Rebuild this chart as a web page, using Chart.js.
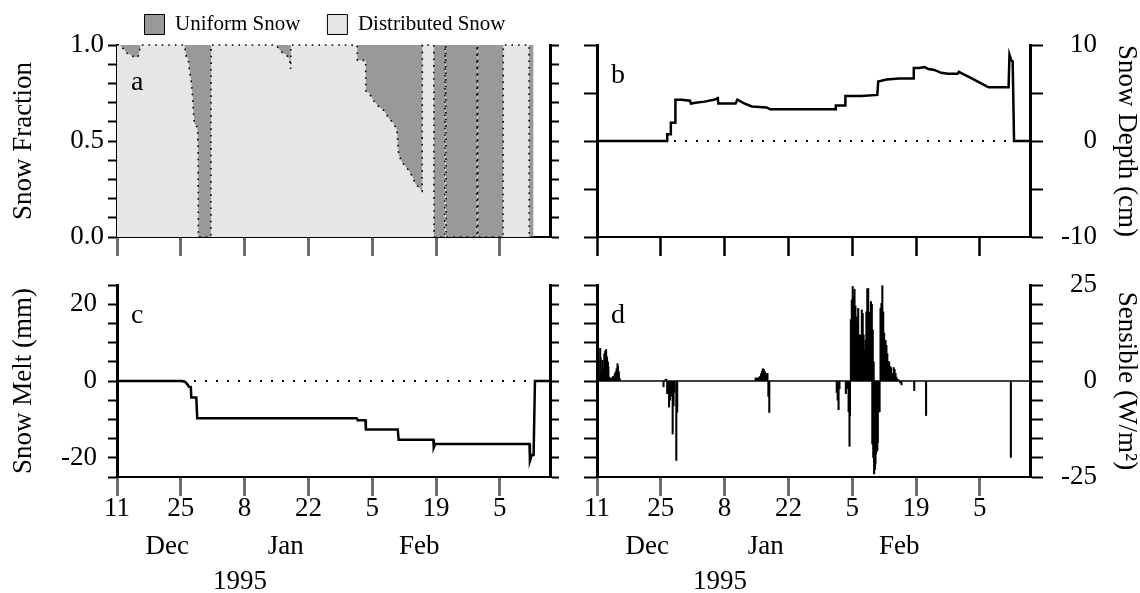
<!DOCTYPE html>
<html>
<head>
<meta charset="utf-8">
<title>Snow model panels</title>
<script src="https://cdn.jsdelivr.net/npm/chart.js@4.4.1/dist/chart.umd.min.js"></script>
<style>
  body { margin: 0; background: #fff; }
  #page { position: relative; width: 1140px; height: 593px; overflow: hidden; }
  .panel { position: absolute; }
</style>
</head>
<body>
<div id="page">
  <div class="panel" style="left:0;top:-13px;width:650px;height:278px"><canvas id="chartA"></canvas></div>
  <div class="panel" style="left:560px;top:0;width:580px;height:265px"><canvas id="chartB"></canvas></div>
  <div class="panel" style="left:0;top:240px;width:650px;height:353px"><canvas id="chartC"></canvas></div>
  <div class="panel" style="left:560px;top:240px;width:580px;height:353px"><canvas id="chartD"></canvas></div>
</div>
<script>
console.log('Snow panels loaded');

Chart.defaults.font.family = "'Liberation Serif', 'Times New Roman', serif";
Chart.defaults.color = '#000';
Chart.defaults.animation = false;

// x axis counts days from 11 Dec
const dayMax = 95;
const tickDays = [0, 14, 28, 42, 56, 70, 84];
const tickLabels = ['11', '25', '8', '22', '5', '19', '5'];
const monthDays = [11, 37, 66.3];
const monthLabels = ['Dec', 'Jan', 'Feb'];
const yearDays = [27];
const yearLabels = ['1995'];

// a: fraction of distributed snow (rest up to 1 is uniform snow)
const fracDays = [0, 0.6, 1.4, 2.0, 2.8, 3.6, 4.6, 5.2,
  14.8, 15.2, 15.6, 16.0, 16.2, 16.4, 16.6, 16.8, 17.0, 17.4, 17.6, 17.7, 17.8, 17.85, 20.6, 20.65,
  34.9, 35.5, 36.3, 37.0, 37.5, 37.9, 38.1, 38.15,
  52.7, 52.75, 54.55, 54.6, 55.3, 56.3, 57.4, 58.5, 59.6, 60.7, 61.4, 61.8, 62.5, 63.6, 64.7, 65.4, 66.5, 66.95, 67.0,
  69.5, 69.55, 71.9, 72.0, 72.1, 72.2, 78.95, 79.0, 79.1, 79.15, 84.7, 84.75, 90.4, 90.45, 91.4];
const fracDist = [1, 1, 0.98, 0.96, 0.95, 0.94, 0.935, 1,
  1, 0.94, 0.93, 0.85, 0.83, 0.78, 0.73, 0.64, 0.59, 0.58, 0.57, 0.54, 0.45, 0, 0, 1,
  1, 0.98, 0.96, 0.95, 0.94, 0.92, 0.875, 1,
  1, 0.92, 0.92, 0.76, 0.75, 0.71, 0.68, 0.66, 0.62, 0.59, 0.56, 0.43, 0.39, 0.36, 0.32, 0.28, 0.25, 0.24, 1,
  1, 0, 0, 1, 1, 0, 0, 1, 1, 0, 0, 1, 1, 0, 0];

// b: snow depth (cm)
const depthDays = [0, 15.4, 15.4, 16.2, 16.2, 17.2, 17.2, 18.5, 20.4, 20.6,
  22.0, 23.6, 25.6, 26.4, 26.5, 26.6, 28.5, 30.4, 30.8, 32.4,
  34.0, 37.2, 38.0, 40.8, 45.0, 50.0, 52.4, 52.4, 54.5, 54.5,
  56.5, 58.0, 61.5, 61.7, 63.5, 66.3, 69.4, 69.5, 70.7, 71.9,
  72.7, 74.0, 75.5, 77.1, 79.1, 79.4, 81.9, 85.1, 85.9, 90.3,
  90.5, 90.9, 91.2, 91.5, 95];
const depthCm = [0, 0, 0.7, 0.7, 1.9, 1.9, 4.3, 4.3, 4.2, 3.9,
  4.0, 4.1, 4.3, 4.4, 4.6, 3.9, 3.9, 3.9, 4.3, 3.9,
  3.6, 3.5, 3.3, 3.3, 3.3, 3.3, 3.3, 3.7, 3.7, 4.7,
  4.7, 4.7, 4.8, 6.2, 6.4, 6.5, 6.5, 7.6, 7.6, 7.7,
  7.5, 7.4, 7.1, 7.0, 7.0, 7.2, 6.6, 5.8, 5.6, 5.6,
  9.0, 8.4, 8.3, 0, 0];

// c: snow melt (mm)
const meltDays = [0, 14.2, 15.0, 15.4, 15.8, 16.2, 16.3, 17.4, 17.6, 52.6,
  52.8, 54.5, 54.6, 61.6, 61.8, 69.4, 69.5, 69.8, 75.4, 90.5,
  90.6, 91.0, 91.4, 91.7, 95];
const meltMm = [0, 0, -0.3, -0.8, -1.5, -1.6, -4.3, -4.3, -9.7, -9.7,
  -10.2, -10.2, -12.6, -12.6, -15.3, -15.3, -17.3, -16.4, -16.4, -16.4,
  -20.8, -19.3, -19.3, 0, 0];

// d: sensible heat flux (W/m2)
const sensDays = [0.1, 0.3, 0.5, 0.7, 0.8, 1.0, 1.2, 1.4, 1.6, 1.8, 2.0, 2.2, 2.4, 2.5, 2.7, 2.9, 3.1, 3.3, 3.5, 3.7, 3.9, 4.1, 4.3, 4.5, 4.6, 4.8, 5.0,
  14.6, 15.0, 15.2, 15.4, 15.6, 15.8, 16.0, 16.2, 16.4, 16.6, 16.8, 17.0, 17.4, 17.6,
  34.8, 35.0, 35.2, 35.4, 35.6, 35.8, 36.0, 36.2, 36.4, 36.6, 36.8, 37.0, 37.2, 37.4, 37.6, 37.8,
  52.6, 52.8, 53.0, 53.2, 54.6, 54.8, 55.0, 55.2, 55.4, 55.5,
  55.7, 55.9, 56.1, 56.3, 56.5, 56.7, 56.9, 57.1, 57.3, 57.5, 57.7, 57.9, 58.1, 58.3, 58.5, 58.7, 58.9, 59.1, 59.3, 59.5,
  59.7, 59.9, 60.1, 60.3, 60.4, 60.5, 60.6, 60.7, 60.8, 60.9, 61.0, 61.1, 61.2, 61.3, 61.5, 61.6, 61.8, 62.0,
  62.2, 62.4, 62.6, 62.8, 63.0, 63.1, 63.3, 63.5, 63.7, 63.9, 64.1, 64.3, 64.5, 64.7, 64.9, 65.1, 65.3, 65.5, 65.7, 65.9, 66.2, 66.5, 66.8,
  69.6, 72.2, 90.8];
const sensFlux = [5.4, 3.0, 1.5, 8.5, 6.0, 2.5, 5.4, 3.5, 7.1, 7.8, 8.2, 6.3, 5.0, 3.7, 1.0, 0.5, 0.8, 0.7, 1.2, 1.0, 1.9, 2.4, 3.2, 4.5, 3.8, 2.4, 0.6,
  -1.5, 0.3, 0.5, -3.3, -2.0, -6.8, -5.0, -4.0, -3.0, -13.8, -6.5, -3.0, -20.7, -8.1,
  0.8, 0.6, 0.8, 0.7, 1.0, 1.2, 1.9, 2.6, 3.2, 3.0, 2.5, 2.0, 1.8, 2.0, -4.0, -8.2,
  -3.0, -5.0, -7.5, -2.0, -3.3, -1.5, -2.0, -8.0, -17.0, -9.0,
  16.0, 21.1, 24.6, 22.0, 23.9, 19.5, 16.7, 15.0, 18.9, 12.0, 8.9, 12.0, 18.5, 17.6, 12.0, 8.0, 10.6, 18.0, 24.0, 24.1,
  14.1, 18.0, 20.7, 20.0, -16.4, 13.3, -19.9, 5.0, -24.2, -20.7, -23.0, -21.5, -19.0, -18.5, -18.1, -16.0, -8.1, -8.0,
  18.9, 20.2, 24.8, 18.0, 12.5, 10.2, 10.6, 9.3, 7.1, 5.0, 5.0, 3.8, 3.5, 2.0, 2.0, 3.5, 3.0, 2.0, 1.0, 0.5, 0.3, -0.5, -1.0,
  -2.5, -9.0, -19.9];

const zeroLine = [{x: 0, y: 0}, {x: dayMax, y: 0}];

function points(xs, ys) {
  return xs.map((x, i) => ({x: x, y: ys[i]}));
}
function setWidth(w) { return scale => { scale.width = w; }; }
function setHeight(h) { return scale => { scale.height = h; }; }
function setTicks(values) { return scale => { scale.ticks = values.map(v => ({value: v})); }; }

// small letter in the upper left corner of each plot
const panelLetter = {
  id: 'panelLetter',
  afterDraw(chart, args, opts) {
    const area = chart.chartArea;
    const ctx = chart.ctx;
    ctx.save();
    ctx.font = "28px 'Liberation Serif'";
    ctx.fillStyle = '#000';
    ctx.fillText(opts.text, area.left + 14, area.top + 38);
    ctx.restore();
  }
};

function textAxis(days, texts, height, pad, weight) {
  return {
    type: 'linear', position: 'bottom', min: 0, max: dayMax, offset: false, weight: weight,
    afterBuildTicks: setTicks(days),
    afterFit: setHeight(height),
    grid: {display: false, drawTicks: false},
    border: {display: false},
    ticks: {autoSkip: false, maxRotation: 0, padding: pad, font: {size: 27, lineHeight: 1},
            callback: (v, i) => texts[i]}
  };
}

function xAxes(withLabels, tickColor, tickWidth, height) {
  const axes = {
    x: {
      type: 'linear', position: 'bottom', min: 0, max: dayMax, offset: false, weight: 1,
      afterBuildTicks: setTicks(tickDays),
      afterFit: setHeight(height),
      grid: {drawOnChartArea: false, tickLength: 19, tickColor: tickColor, tickWidth: tickWidth, offset: false},
      border: {color: '#000', width: 2},
      ticks: {display: withLabels, autoSkip: false, maxRotation: 0, padding: -1, font: {size: 27, lineHeight: 1},
              callback: (v, i) => tickLabels[i]}
    }
  };
  if (withLabels) {
    axes.xMonth = textAxis(monthDays, monthLabels, 42, 12, 2);
    axes.xYear = textAxis(yearDays, yearLabels, 30, 5, 3);
  }
  return axes;
}

function yAxis(position, min, max, step, labels, width, tickLength, padding, title) {
  return {
    type: 'linear', position: position, min: min, max: max, weight: 1,
    afterFit: setWidth(width),
    grid: {drawOnChartArea: false, tickLength: tickLength, tickColor: '#000', tickWidth: 2},
    border: {color: '#000', width: 3},
    title: title ? {display: true, text: title, font: {size: 27, lineHeight: 1}, padding: {top: 10, bottom: 0}} : {display: false},
    ticks: {
      stepSize: step, autoSkip: false, padding: padding, font: {size: 27},
      display: labels.length > 0,
      crossAlign: position === 'right' ? 'far' : 'near',
      callback: v => {
        const hit = labels.find(l => Math.abs(l - v) < 1e-6);
        if (hit === undefined) return '';
        return step < 1 ? hit.toFixed(1) : String(hit);
      }
    }
  };
}

// title-only axis for the right side titles
function titleAxis(min, max, text) {
  return {
    type: 'linear', position: 'right', min: min, max: max, weight: 2,
    afterFit: setWidth(43),
    grid: {display: false},
    border: {display: false},
    ticks: {display: false},
    title: {display: true, text: text, font: {size: 27, lineHeight: 1}, padding: {top: 0, bottom: 0}}
  };
}

const commonPlugins = {tooltip: {enabled: false}, legend: {display: false}};

// a
new Chart(document.getElementById('chartA'), {
  type: 'line',
  data: {
    datasets: [{
      label: 'Uniform Snow',
      data: fracDays.map(d => ({x: d, y: 1})),
      fill: '+1',
      backgroundColor: '#999999',
      borderColor: 'rgba(0,0,0,0)',
      borderWidth: 0,
      pointRadius: 0
    }, {
      label: 'Distributed Snow',
      data: points(fracDays, fracDist),
      fill: 'origin',
      backgroundColor: '#e6e6e6',
      borderColor: '#000',
      borderWidth: 1.6,
      borderDash: [1.6, 5],
      pointRadius: 0,
      clip: 3
    }]
  },
  options: {
    responsive: true,
    maintainAspectRatio: false,
    scales: Object.assign(xAxes(false, '#6e6e6e', 3, 28), {
      y: yAxis('left', 0, 1, 0.1, [0, 0.5, 1], 117, 9, 4, 'Snow Fraction'),
      yR: yAxis('right', 0, 1, 0.1, [], 100, 9, 0, null)
    }),
    plugins: {
      tooltip: {enabled: false},
      filler: {drawTime: 'beforeDatasetsDraw'},
      panelLetter: {text: 'a'},
      legend: {
        display: true,
        position: 'top',
        labels: {
          boxWidth: 20,
          boxHeight: 20,
          padding: 27,
          font: {size: 21},
          generateLabels: chart => chart.data.datasets.map((ds, i) => ({
            text: ds.label,
            fillStyle: ds.backgroundColor,
            strokeStyle: '#000',
            lineWidth: 1,
            hidden: false,
            datasetIndex: i
          }))
        }
      }
    }
  },
  plugins: [panelLetter]
});

// b
new Chart(document.getElementById('chartB'), {
  type: 'line',
  data: {
    datasets: [{
      data: points(depthDays, depthCm),
      borderColor: '#000',
      borderWidth: 2.5,
      pointRadius: 0,
      fill: false
    }, {
      data: zeroLine,
      borderColor: '#000',
      borderWidth: 2,
      borderDash: [2, 9],
      pointRadius: 0,
      fill: false
    }]
  },
  options: {
    responsive: true,
    maintainAspectRatio: false,
    layout: {padding: {top: 45}},
    scales: Object.assign(xAxes(false, '#000', 2.5, 28), {
      y: yAxis('left', -10, 10, 5, [], 37, 13, 0, null),
      yR: yAxis('right', -10, 10, 5, [-10, 0, 10], 67, 13, 0, null),
      yT: titleAxis(-10, 10, 'Snow Depth (cm)')
    }),
    plugins: Object.assign({panelLetter: {text: 'b'}}, commonPlugins)
  },
  plugins: [panelLetter]
});

// c
new Chart(document.getElementById('chartC'), {
  type: 'line',
  data: {
    datasets: [{
      data: points(meltDays, meltMm),
      borderColor: '#000',
      borderWidth: 2.5,
      pointRadius: 0,
      fill: false
    }, {
      data: zeroLine,
      borderColor: '#000',
      borderWidth: 2,
      borderDash: [2, 9],
      pointRadius: 0,
      fill: false
    }]
  },
  options: {
    responsive: true,
    maintainAspectRatio: false,
    layout: {padding: {top: 45}},
    scales: Object.assign(xAxes(true, '#6e6e6e', 3, 44), {
      y: yAxis('left', -25, 25, 5, [-20, 0, 20], 117, 9, 11, 'Snow Melt (mm)'),
      yR: yAxis('right', -25, 25, 5, [], 100, 9, 0, null)
    }),
    plugins: Object.assign({panelLetter: {text: 'c'}}, commonPlugins)
  },
  plugins: [panelLetter]
});

// d
new Chart(document.getElementById('chartD'), {
  type: 'bar',
  data: {
    datasets: [{
      data: points(sensDays, sensFlux),
      backgroundColor: '#000',
      barThickness: 1.4,
      grouped: false
    }, {
      type: 'line',
      data: zeroLine,
      borderColor: '#000',
      borderWidth: 1.5,
      pointRadius: 0,
      fill: false
    }]
  },
  options: {
    responsive: true,
    maintainAspectRatio: false,
    layout: {padding: {top: 45}},
    scales: Object.assign(xAxes(true, '#6e6e6e', 3, 44), {
      y: yAxis('left', -25, 25, 5, [], 37, 13, 0, null),
      yR: yAxis('right', -25, 25, 5, [-25, 0, 25], 67, 13, 0, null),
      yT: titleAxis(-25, 25, 'Sensible (W/m²)')
    }),
    plugins: Object.assign({panelLetter: {text: 'd'}}, commonPlugins)
  },
  plugins: [panelLetter]
});
</script>
</body>
</html>
